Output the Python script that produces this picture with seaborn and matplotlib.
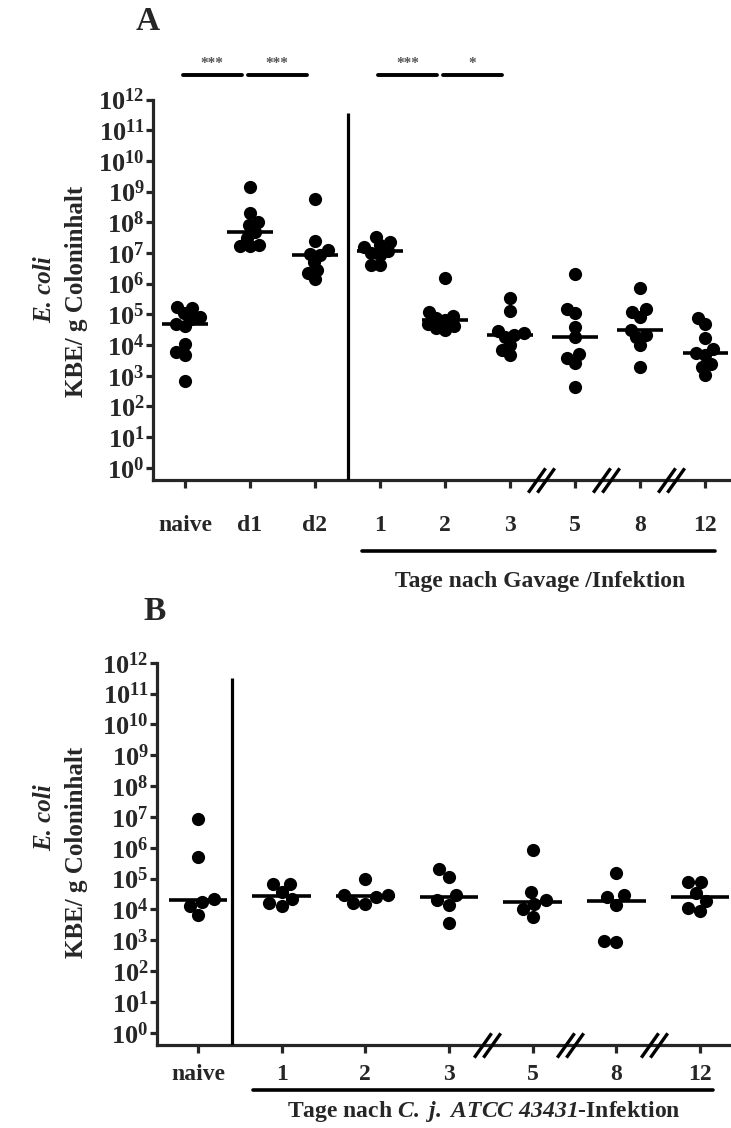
import numpy as np
import pandas as pd
import matplotlib
matplotlib.use("Agg")
import matplotlib.pyplot as plt
import matplotlib.transforms as mtransforms
from matplotlib.path import Path
from matplotlib.ticker import NullLocator
import seaborn as sns

# ---------------- data (log10 KBE / g Coloninhalt) ----------------
a_groups = ["naive", "d1", "d2", "1", "2", "3", "5", "8", "12"]
a_naive = [5.24, 5.19, 5.05, 4.92, 4.85, 4.70, 4.62, 4.03, 3.78, 3.67, 2.83]
a_d1 = [9.15, 8.29, 8.01, 7.91, 7.68, 7.50, 7.25, 7.22, 7.22]
a_d2 = [8.77, 7.38, 7.09, 6.98, 6.93, 6.71, 6.44, 6.35, 6.14]
a_day1 = [7.52, 7.36, 7.25, 7.20, 7.07, 7.00, 6.93, 6.60, 6.60]
a_day2 = [6.19, 5.08, 4.95, 4.88, 4.81, 4.70, 4.62, 4.55, 4.50]
a_day3 = [5.52, 5.10, 4.46, 4.38, 4.32, 4.25, 4.00, 3.83, 3.67]
a_day5 = [6.30, 5.16, 5.03, 4.59, 4.25, 3.69, 3.56, 3.42, 2.64]
a_day8 = [5.86, 5.16, 5.08, 4.92, 4.50, 4.32, 4.27, 4.00, 3.27]
a_day12 = [4.87, 4.67, 4.24, 3.86, 3.73, 3.67, 3.38, 3.29, 3.02]
a_values = [a_naive, a_d1, a_d2, a_day1, a_day2, a_day3, a_day5, a_day8, a_day12]

a_sig_pairs = [("naive", "d1"), ("d1", "d2"), ("1", "2"), ("2", "3")]
a_sig_labels = ["***", "***", "***", "*"]

b_groups = ["naive", "1", "2", "3", "5", "8", "12"]
b_naive = [6.94, 5.69, 4.34, 4.25, 4.12, 3.82]
b_day1 = [4.83, 4.83, 4.55, 4.34, 4.21, 4.12]
b_day2 = [4.99, 4.48, 4.48, 4.39, 4.20, 4.18]
b_day3 = [5.31, 5.06, 4.48, 4.30, 4.15, 3.55]
b_day5 = [5.91, 4.55, 4.30, 4.18, 4.01, 3.76]
b_day8 = [5.17, 4.45, 4.41, 4.15, 2.96, 2.93]
b_day12 = [4.88, 4.88, 4.52, 4.28, 4.05, 3.94]
b_values = [b_naive, b_day1, b_day2, b_day3, b_day5, b_day8, b_day12]

y_exponents = list(range(0, 13))
break_after = ["3", "5", "8"]

# ---------------- style ----------------
sns.set_style("ticks")
plt.rcParams["font.family"] = ["Liberation Serif", "DejaVu Serif"]
plt.rcParams["font.weight"] = "bold"
plt.rcParams["mathtext.fontset"] = "custom"
plt.rcParams["mathtext.rm"] = "Liberation Serif:bold"
plt.rcParams["mathtext.bf"] = "Liberation Serif:bold"
plt.rcParams["mathtext.it"] = "Liberation Serif:italic:bold"
plt.rcParams["mathtext.bfit"] = "Liberation Serif:italic:bold"
plt.rcParams["mathtext.default"] = "bf"

W, H = 731, 1128
fig = plt.figure(figsize=(W / 100, H / 100), dpi=100)

YLO = 10 ** -0.4
YHI = 1e12
LW = 2.3
DOT_SIZE = 9.5     # drawn dot diameter (pt)


def make_df(groups, values):
    return pd.DataFrame({
        "group": np.repeat(groups, [len(v) for v in values]),
        "kbe": 10 ** np.concatenate([np.asarray(v, float) for v in values]),
    })


def draw_panel(ax, groups, values, xlim, sep_x, sep_top, brk_off,
               line_span, line_y, label, label_x, label_y, xpad, swarm_size):
    df = make_df(groups, values)
    n_before = len(ax.collections)
    sns.swarmplot(data=df, x="group", y="kbe", order=groups, color="black",
                  size=swarm_size, log_scale=True, ax=ax, zorder=3,
                  linewidth=0)
    swarm_colls = ax.collections[n_before:]
    sns.boxplot(data=df, x="group", y="kbe", order=groups, width=0.7,
                showbox=False, showcaps=False, showfliers=False, whis=0,
                whiskerprops={"visible": False},
                medianprops={"color": "black", "linewidth": 2.6},
                log_scale=True, ax=ax, zorder=4)
    ax.set_xlim(*xlim)
    ax.set_ylim(YLO, YHI)
    ax.set_xlabel("")
    ax.set_ylabel("")
    ax.set_yticks([10.0 ** e for e in y_exponents])
    ax.set_yticklabels([rf"$\mathbf{{10^{{{e}}}}}$" for e in y_exponents])
    ax.yaxis.set_minor_locator(NullLocator())
    ax.set_xticks(range(len(groups)))
    ax.set_xticklabels(groups)
    ax.tick_params(axis="y", direction="out", length=5, width=LW, pad=1,
                   labelsize=19)
    ax.tick_params(axis="x", direction="out", length=6, width=LW, pad=xpad,
                   labelsize=17)
    for lab in ax.get_xticklabels():
        lab.set_fontweight("bold")
    sns.despine(ax=ax)
    for s in ("left", "bottom"):
        ax.spines[s].set_linewidth(LW)
    # separator line
    ax.vlines(sep_x, YLO, 10 ** sep_top, color="black", lw=LW, zorder=5)
    # axis break marks
    brk = Path([(-13, -12), (4, 12), (-4, -12), (13, 12)],
               [Path.MOVETO, Path.LINETO, Path.MOVETO, Path.LINETO])
    bx = [groups.index(g) + brk_off for g in break_after]
    ax.plot(bx, [YLO] * len(bx), linestyle="none", marker=brk, markersize=19,
            markeredgewidth=2.4, color="black", clip_on=False, zorder=6)
    # underline + x label
    trans = mtransforms.blended_transform_factory(ax.transData, ax.transAxes)
    ax.plot(line_span, [line_y, line_y], color="black", lw=2.6,
            transform=trans, clip_on=False)
    ax.text(label_x, label_y, label, transform=trans, ha="center",
            va="center", fontsize=17, fontweight="bold")
    return swarm_colls


# ---------------- panel A ----------------
axA = fig.add_axes([153 / W, 1 - 480 / H, 577 / W, 380.5 / H])
swA = draw_panel(axA, a_groups, a_values, (-0.49, 8.38), 2.5, 11.55, 0.47,
                 [2.72, 8.15], -0.187, "Tage nach Gavage /Infektion", 5.46,
                 -0.268, 19, 6.5)

for (g1, g2), lab in zip(a_sig_pairs, a_sig_labels):
    i, j = a_groups.index(g1), a_groups.index(g2)
    c = (i + j) / 2 - 0.08
    axA.plot([c - 0.455, c + 0.455], [10 ** 12.79] * 2, color="black",
             lw=2.8, clip_on=False, solid_capstyle="round")
    axA.text(c, 10 ** 12.95, lab, ha="center", va="bottom", fontsize=11,
             color="#555555", clip_on=False)

# ---------------- panel B ----------------
axB = fig.add_axes([157 / W, 1 - 1045 / H, 573 / W, 382.3 / H])
swB = draw_panel(axB, b_groups, b_values, (-0.49, 6.36), 0.41, 11.5, 0.45,
                 [0.66, 6.16], -0.118,
                 r"Tage nach $\mathbfit{C.\ j.\ ATCC\ 43431}$-Infektion",
                 3.42, -0.175, 8, 8.6)

# ---------------- panel letters and y labels ----------------
fig.text(148 / W, 1 - 22 / H, "A", fontsize=24, fontweight="bold",
         ha="center", va="center")
fig.text(155 / W, 1 - 612 / H, "B", fontsize=24, fontweight="bold",
         ha="center", va="center")
for yc_e, yc_k in ((290, 291), (818, 852)):
    fig.text(45 / W, 1 - yc_e / H, "E. coli", rotation=90, fontsize=18,
             fontweight="bold", fontstyle="italic", ha="center", va="center")
    fig.text(76 / W, 1 - yc_k / H, "KBE/ g Coloninhalt", rotation=90,
             fontsize=18, fontweight="bold", ha="center", va="center")

# lay out the swarms with tight spacing, then draw the dots larger so they
# overlap like in the original figure
fig.canvas.draw()
for coll in list(swA) + list(swB):
    if "draw" in coll.__dict__:
        del coll.__dict__["draw"]
    coll.set_sizes([DOT_SIZE ** 2])

fig.savefig("out.png", dpi=100)
